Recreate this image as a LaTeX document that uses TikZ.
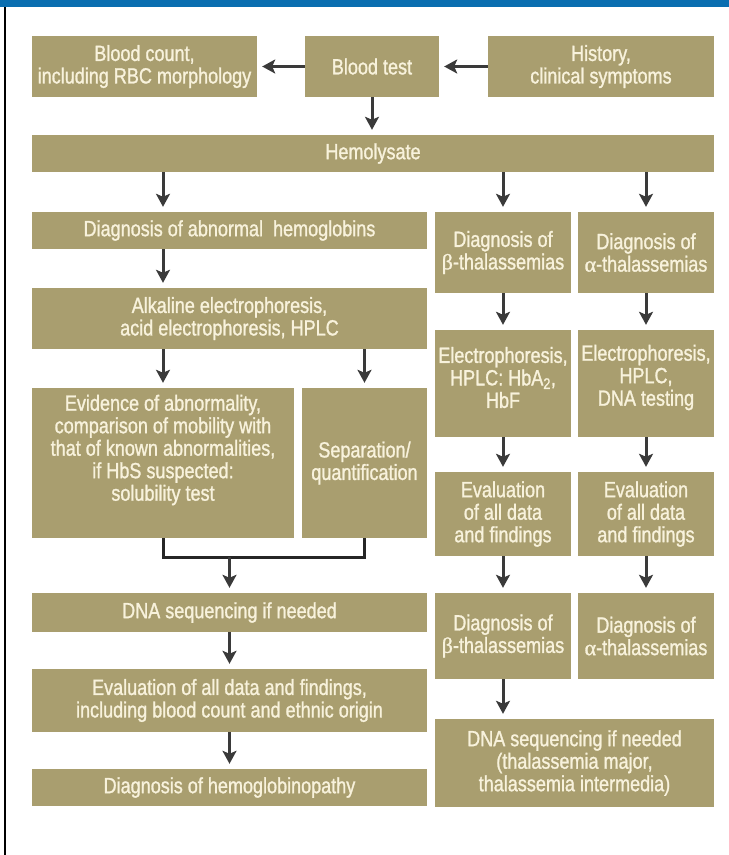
\documentclass[tikz,border=0pt]{standalone}
\usepackage{fontspec}
\setmainfont{Liberation Sans}[FakeStretch=0.82,FakeBold=1.2]
\newfontfamily\grk{Liberation Serif}[FakeBold=1.2]
\usetikzlibrary{arrows.meta,calc}
\definecolor{boxfill}{HTML}{A99E6F}
\definecolor{boxtext}{HTML}{F8F2DC}
\definecolor{arrowc}{HTML}{3A3A3A}
\definecolor{topbar}{HTML}{0A6EB0}
\tikzset{
  box/.style={fill=boxfill, draw=none, inner sep=1pt, text=boxtext,
    font=\fontsize{22pt}{22.5pt}\selectfont, align=center},
  txt/.style={text=boxtext, inner sep=0pt,
    font=\fontsize{22pt}{22.5pt}\selectfont, align=center},
  arr/.style={draw=arrowc, line width=3pt, shorten >=5pt,
    -{Stealth[length=13pt,width=14pt,inset=3pt]}},
  brk/.style={draw=black!85, line width=3pt, line join=miter}
}
\newcommand\bx[6]{\node[box, minimum width={(#4-#2)*1pt}, minimum height={(#5-#3)*1pt}] (#1) at ({(#2+#4)/2},{(#3+#5)/2}) {#6};}
\begin{document}
\begin{tikzpicture}[x=1pt,y=-1pt]
\useasboundingbox (0,0) rectangle (729,855);
\fill[white] (0,0) rectangle (729,855);
\fill[topbar] (0,0) rectangle (729,7);
\draw[line width=2.5pt, black] (5,7) -- (5,855);

\bx{bc}{32}{36}{257}{97}{Blood count,\\including RBC morphology}
\bx{bt}{305}{36}{439}{97}{Blood test}
\bx{hi}{488}{36}{714}{97}{History,\\clinical symptoms}
\bx{hemo}{32}{135}{714}{172}{Hemolysate}
\bx{dab}{32}{212}{427}{249}{Diagnosis of abnormal~ hemoglobins}
\bx{db}{435}{212}{571}{293}{Diagnosis of\\{\grk β}-thalassemias}
\bx{da}{578}{212}{714}{293}{Diagnosis of\\{\grk α}-thalassemias}
\bx{alk}{32}{288}{427}{349}{Alkaline electrophoresis,\\acid electrophoresis, HPLC}
\bx{ev}{32}{388}{294}{538}{}
\node[txt] (evt) at ($(ev.center)+(0,-13)$) {Evidence of abnormality,\\comparison of mobility with\\that of known abnormalities,\\if HbS suspected:\\solubility test};
\bx{sep}{302}{388}{427}{538}{Separation/\\quantification}
\bx{eb}{435}{330}{571}{437}{}
\node[txt] (ebt) at ($(eb.center)+(0,-6)$) {Electrophoresis,\\HPLC: HbA\textsubscript{2},\\HbF};
\bx{ea}{578}{330}{714}{437}{}
\node[txt] (eat) at ($(ea.center)+(0,-6)$) {Electrophoresis,\\HPLC,\\DNA testing};
\bx{evb}{435}{472}{571}{556}{Evaluation\\of all data\\and findings}
\bx{eva}{578}{472}{714}{556}{Evaluation\\of all data\\and findings}
\bx{dnl}{32}{593}{427}{632}{DNA sequencing if needed}
\bx{dbb}{435}{593}{571}{679}{Diagnosis of\\{\grk β}-thalassemias}
\bx{dab2}{578}{593}{714}{679}{Diagnosis of\\{\grk α}-thalassemias}
\bx{evl}{32}{669}{427}{732}{Evaluation of all data and findings,\\including blood count and ethnic origin}
\bx{dh}{32}{769}{427}{806}{Diagnosis of hemoglobinopathy}
\bx{dnr}{435}{719}{714}{807}{DNA sequencing if needed\\(thalassemia major,\\thalassemia intermedia)}

% connectors
\draw[arr] (bt.west) -- (bc.east);
\draw[arr] (hi.west) -- (bt.east);
\draw[arr] (bt.south) -- (bt.south |- hemo.north);
\draw[arr] (hemo.south -| ev.north) -- (dab.north -| ev.north);
\draw[arr] (hemo.south -| db.north) -- (db.north);
\draw[arr] (hemo.south -| da.north) -- (da.north);
\draw[arr] (dab.south -| ev.north) -- (alk.north -| ev.north);
\draw[arr] (alk.south -| ev.north) -- (ev.north);
\draw[arr] (alk.south -| sep.north) -- (sep.north);
\coordinate (jn) at (229.5,557);
\draw[brk] (ev.south) |- (jn) -| (sep.south);
\draw[arr] (jn) -- (dnl.north);
\draw[arr] (dnl.south) -- (evl.north);
\draw[arr] (evl.south) -- (dh.north);
\draw[arr] (db.south) -- (eb.north);
\draw[arr] (eb.south) -- (evb.north);
\draw[arr] (evb.south) -- (dbb.north);
\draw[arr] (dbb.south) -- (dbb.south |- dnr.north);
\draw[arr] (da.south) -- (ea.north);
\draw[arr] (ea.south) -- (eva.north);
\draw[arr] (eva.south) -- (dab2.north);
\end{tikzpicture}
\end{document}
